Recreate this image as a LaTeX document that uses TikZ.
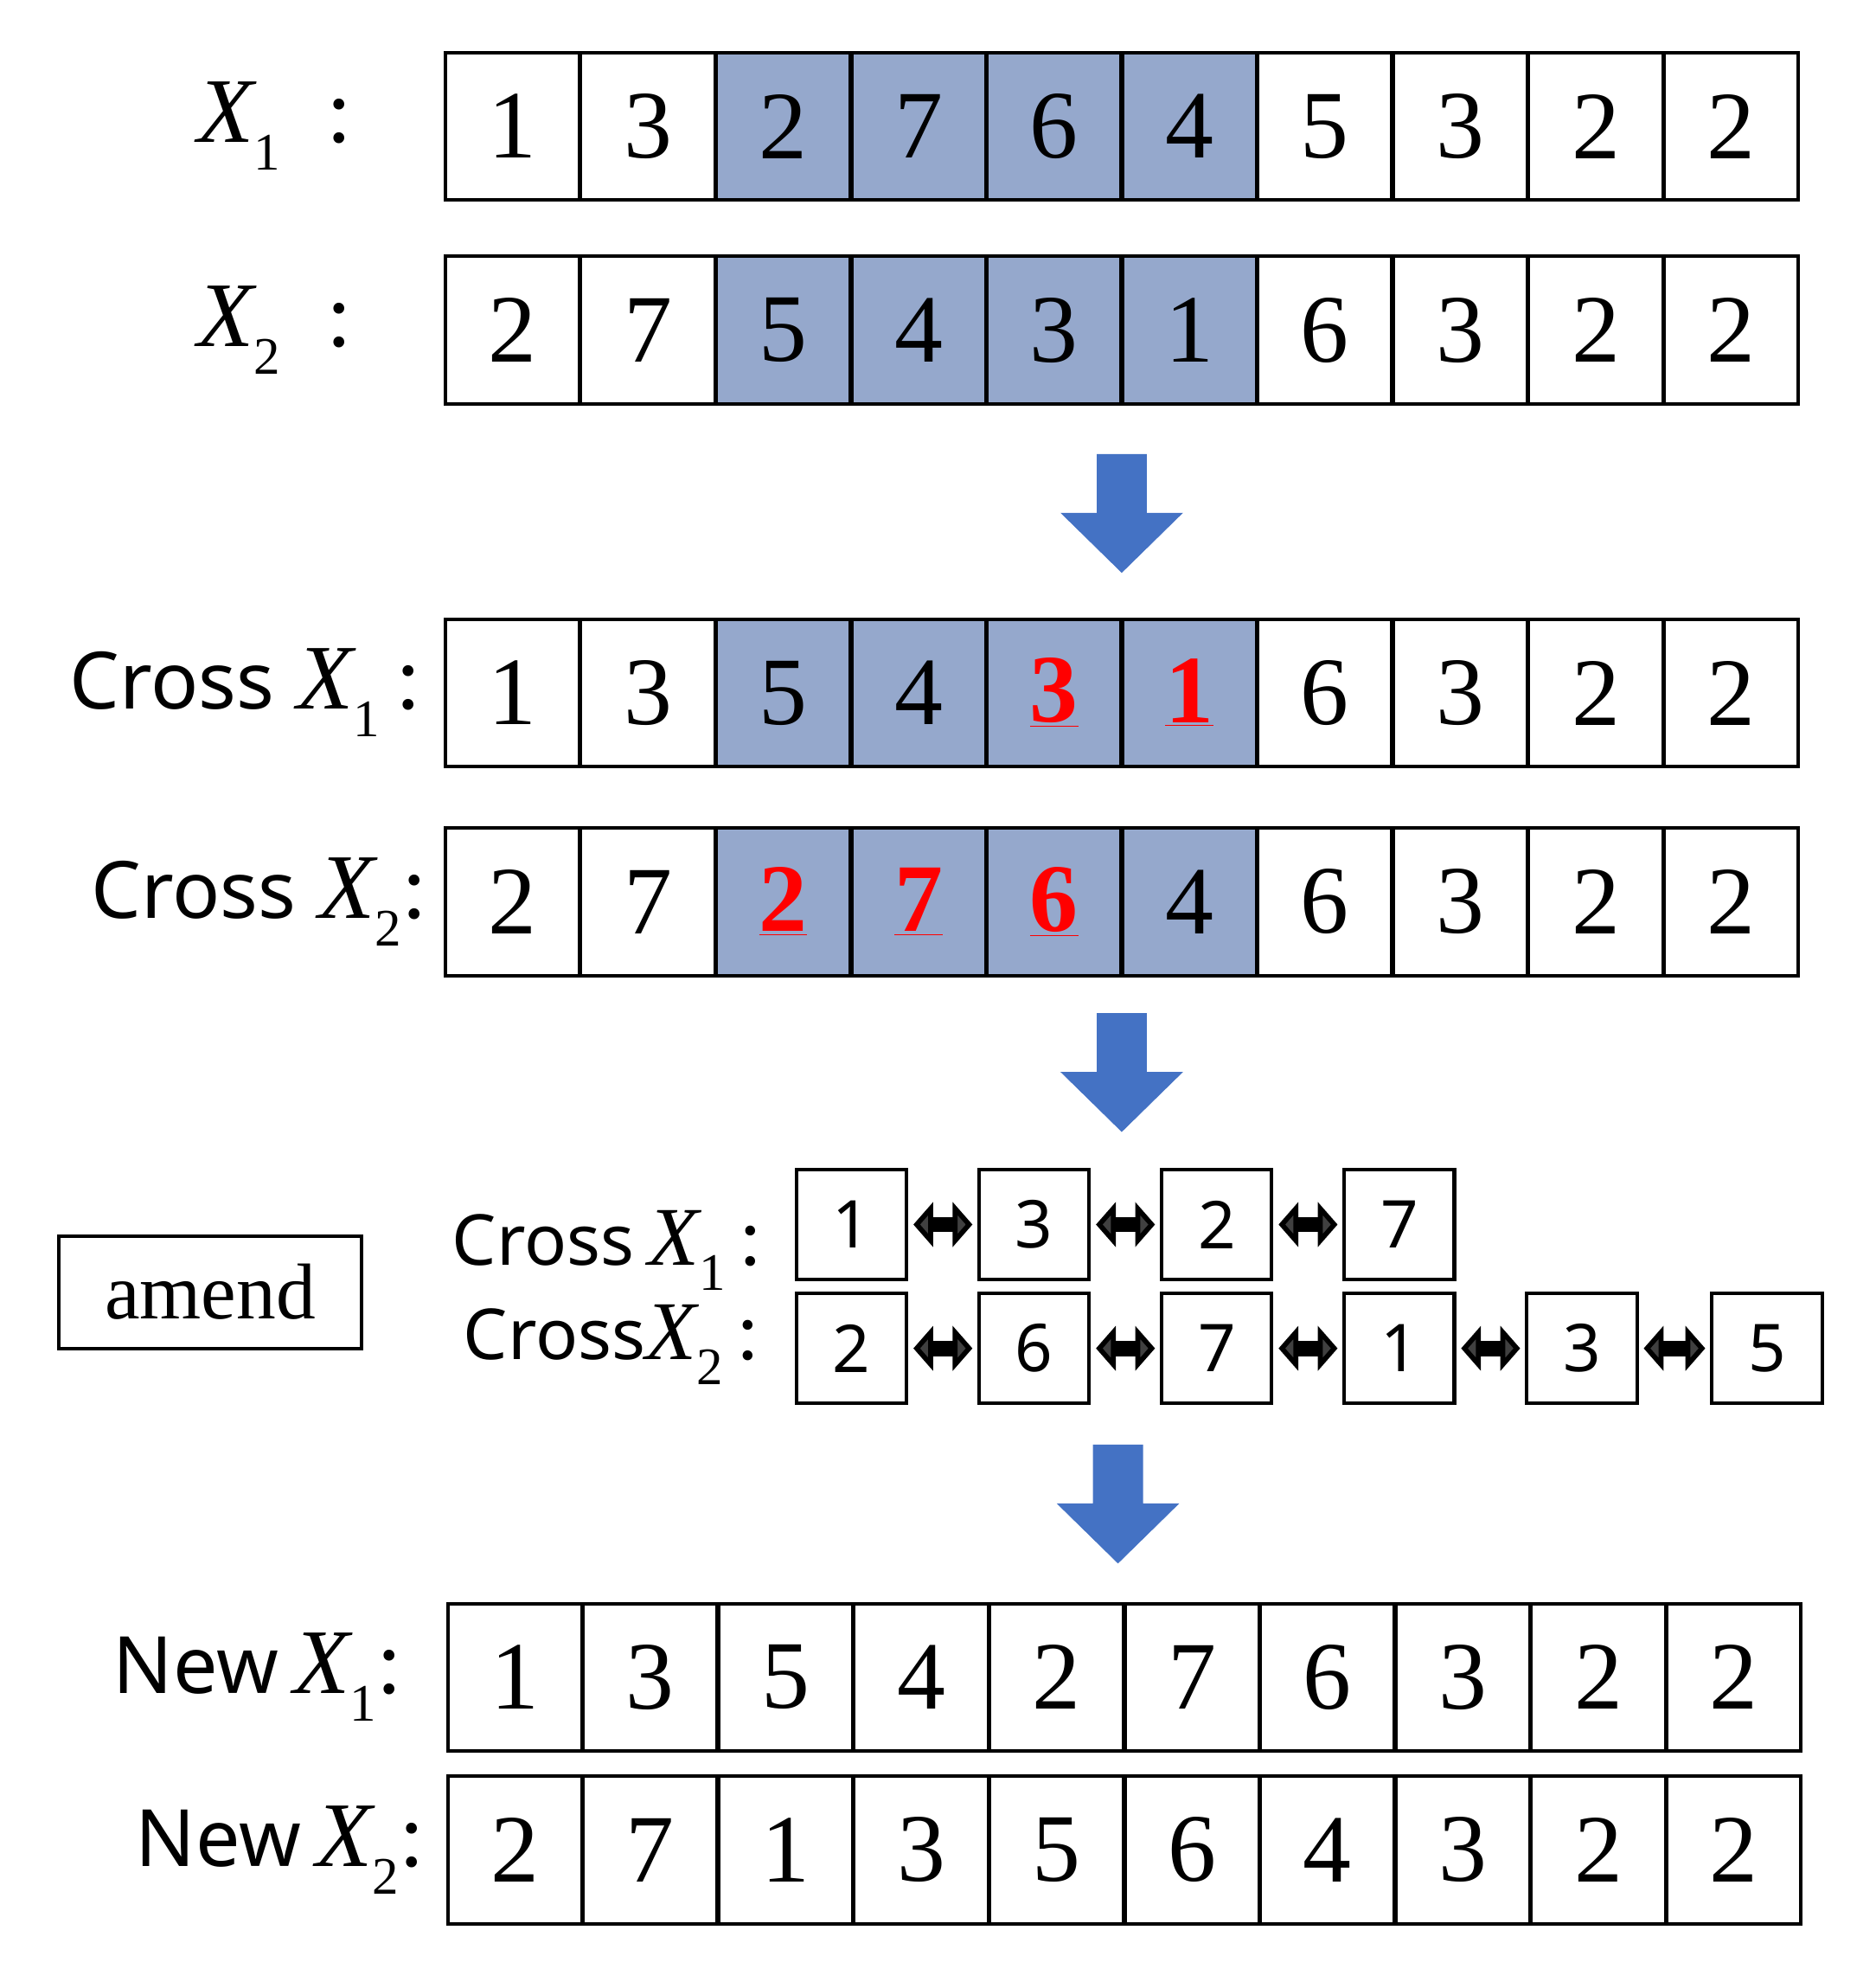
\documentclass[tikz,border=0pt]{standalone}
\usepackage{fontspec}
\setmainfont{Liberation Serif}
\newfontfamily\lblfont{Noto Sans}
\usetikzlibrary{arrows.meta}
\definecolor{shd}{HTML}{95A8CC}
\definecolor{blu}{HTML}{4472C4}
\newcommand\rd[1]{\textcolor{red}{\underline{\textbf{#1}}}}
\newcommand\Xs[1]{{\itshape X}\raisebox{-0.3em}{\fontsize{24}{26}\selectfont #1}}
\tikzset{
 cell/.style={draw=black, line width=1.6pt, minimum width=2.148cm, minimum height=2.36cm, inner sep=0pt, font=\fontsize{44}{46}\selectfont},
 sbox/.style={draw=black, line width=1.6pt, minimum width=1.76cm, minimum height=1.76cm, inner sep=0pt, font=\lblfont\fontsize{30}{32}\selectfont},
 lbl/.style={anchor=east, inner sep=0pt, font=\fontsize{42}{44}\selectfont},
 dbl/.style={{Triangle[length=9pt,width=20pt,fill=darkgray]}-{Triangle[length=9pt,width=20pt,fill=darkgray]}, line width=7pt, draw=black},
}
\newcommand\bigarr[2]{% x center, y top
 \fill[blu] (#1-20,#2) -- (#1+20,#2) -- (#1+20,#2+47) -- (#1+49,#2+47) -- (#1,#2+95) -- (#1-49,#2+47) -- (#1-20,#2+47) -- cycle;}
\begin{document}
\begin{tikzpicture}[x=0.02cm,y=-0.02cm]
\useasboundingbox (0,0) rectangle (1500,1579);
\foreach \nm/\yt/\xs/\lst in {
 a/42/356/{1/white,3/white,2/shd,7/shd,6/shd,4/shd,5/white,3/white,2/white,2/white},
 b/205/356/{2/white,7/white,5/shd,4/shd,3/shd,1/shd,6/white,3/white,2/white,2/white},
 c/495/356/{1/white,3/white,5/shd,4/shd,\rd{3}/shd,\rd{1}/shd,6/white,3/white,2/white,2/white},
 d/662/356/{2/white,7/white,\rd{2}/shd,\rd{7}/shd,\rd{6}/shd,4/shd,6/white,3/white,2/white,2/white},
 e/1282/358/{1/white,3/white,5/white,4/white,2/white,7/white,6/white,3/white,2/white,2/white},
 f/1420/358/{2/white,7/white,1/white,3/white,5/white,6/white,4/white,3/white,2/white,2/white}}{
 \foreach \v/\f [count=\i] in \lst {
  \node[cell, fill=\f] (\nm\i) at ({\xs+53.7+(\i-1)*108.3},\yt+59) {\v};
 }
}
\node[lbl] (la) at (282,101) {\Xs{1}\,\,\,:};
\node[lbl] (lb) at (282,264) {\Xs{2}\,\,\,:};
\node[lbl] (lc) at (337,554) {{\lblfont\fontsize{36}{38}\selectfont Cross} \Xs{1}\,:};
\node[lbl] (ld) at (342,721) {{\lblfont\fontsize{36}{38}\selectfont Cross} \Xs{2}:};
\node[lbl] (le) at (322,1341) {{\lblfont\fontsize{36}{38}\selectfont New}\,\Xs{1}:};
\node[lbl] (lf) at (340,1479) {{\lblfont\fontsize{36}{38}\selectfont New}\,\Xs{2}:};
\bigarr{897}{363}
\bigarr{897}{810}
\bigarr{894}{1155}
\node[draw, line width=1.6pt, minimum width=4.84cm, minimum height=1.8cm, font=\fontsize{36}{38}\selectfont] (am) at (168,1033) {amend};
\node[lbl, font=\fontsize{38}{40}\selectfont] (lg) at (610,1000) {{\lblfont\fontsize{32}{34}\selectfont Cross}\,\Xs{1}\,:};
\node[lbl, font=\fontsize{38}{40}\selectfont] (lh) at (608,1075) {{\lblfont\fontsize{32}{34}\selectfont Cross}\Xs{2}\,:};
\foreach \v/\x [count=\i] in {1/681,3/827,2/973,7/1119}
 \node[sbox] (g\i) at (\x,979) {\v};
\foreach \v/\x [count=\i] in {2/681,6/827,7/973,1/1119,3/1265,5/1413}
 \node[sbox] (h\i) at (\x,1078) {\v};
\foreach \i [evaluate=\i as \j using int(\i+1)] in {1,2,3}
 \draw[dbl] ([xshift=0.08cm]g\i.east) -- ([xshift=-0.08cm]g\j.west);
\foreach \i [evaluate=\i as \j using int(\i+1)] in {1,2,3,4,5}
 \draw[dbl] ([xshift=0.08cm]h\i.east) -- ([xshift=-0.08cm]h\j.west);
\end{tikzpicture}
\end{document}
